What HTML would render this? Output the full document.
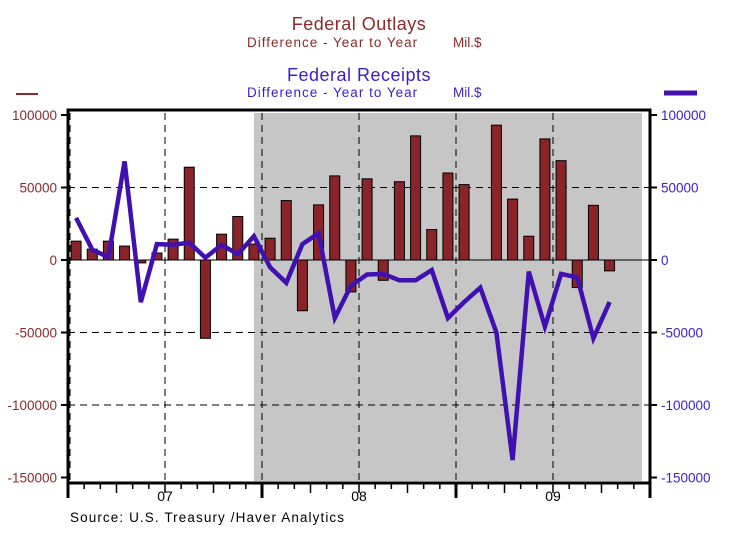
<!DOCTYPE html>
<html><head><meta charset="utf-8"><style>
html,body{margin:0;padding:0;background:#fff;}
svg{display:block;font-family:"Liberation Sans",Arial,sans-serif;}
</style></head><body>
<svg id="chart" width="738" height="537" viewBox="0 0 738 537">
<text x="359" y="30" text-anchor="middle" font-size="18" letter-spacing="0.5" fill="#8b2a2a">Federal Outlays</text>
<text x="247" y="47" font-size="13.5" letter-spacing="1" fill="#8b2a2a">Difference - Year to Year</text>
<text x="453" y="47" font-size="13.5" fill="#8b2a2a">Mil.$</text>
<text x="359" y="81" text-anchor="middle" font-size="18" letter-spacing="0.5" fill="#3a1fc8">Federal Receipts</text>
<text x="247" y="97" font-size="13.5" letter-spacing="1" fill="#3a1fc8">Difference - Year to Year</text>
<text x="453" y="97" font-size="13.5" fill="#3a1fc8">Mil.$</text>
<line x1="16" y1="94" x2="38" y2="94" stroke="#8b2a2a" stroke-width="2"/>
<line x1="664" y1="93" x2="697" y2="93" stroke="#4010b0" stroke-width="5"/>
<g id="plot"></g>
<text x="70" y="522" font-size="13.5" letter-spacing="1.1" fill="#000">Source:  U.S. Treasury /Haver Analytics</text>
</svg>
<script>
const months = ["2007-01","2007-02","2007-03","2007-04","2007-05","2007-06","2007-07","2007-08","2007-09","2007-10","2007-11","2007-12","2008-01","2008-02","2008-03","2008-04","2008-05","2008-06","2008-07","2008-08","2008-09","2008-10","2008-11","2008-12","2009-01","2009-02","2009-03","2009-04","2009-05","2009-06","2009-07","2009-08","2009-09","2009-10"];
const outlays = [13000,7500,13000,9600,-2000,4800,14400,64000,-54000,17800,30000,11000,15000,41000,-35000,38000,58000,-22000,56000,-14000,54000,85600,21000,60000,52000,null,93000,42000,16400,83500,68500,-19000,37700,-7500];
const receipts = [29000,7000,2000,68000,-29000,11000,10500,12000,1600,10500,4000,16400,-5000,-15700,11000,18500,-40000,-17800,-10000,-9600,-14000,-14000,-7000,-40000,-29000,-19000,-50000,-138000,-8000,-46000,-9600,-12000,-54000,-29000];
const yTicks = [100000,50000,0,-50000,-100000,-150000];
const yearLabels = ["07","08","09"];
const shadeStart = 11.5, shadeEnd = 35.5;

const NS="http://www.w3.org/2000/svg";
const g=document.getElementById('plot');
const X0=68, X1=650, MW=(X1-X0)/36;
const Y_TOP=110, Y_BOT=483;
function xm(i){return X0+(i+0.5)*MW;}
function xe(i){return X0+i*MW;}
function y(v){return 260-(v/50000)*72.5;}
function mk(t,a){const e=document.createElementNS(NS,t);for(const k in a)e.setAttribute(k,a[k]);g.appendChild(e);return e;}

let e=mk('rect',{x:xe(shadeStart),y:113,width:xe(shadeEnd)-xe(shadeStart),height:Y_BOT-115,fill:'#c6c6c6'});



yTicks.forEach(v=>{
  if(v===100000||v===-150000||v===0) return;
  const l=mk('line',{x1:X0,x2:X1,y1:y(v),y2:y(v),stroke:'#000','stroke-width':1,'stroke-dasharray':'7,5'});
  
  
});
for(let k=0;k<6;k++){
  const gx = xe(6+k*6);
  if(gx>=X1-1) continue;
  const l=mk('line',{x1:gx,x2:gx,y1:Y_TOP+3,y2:Y_BOT,stroke:'#000','stroke-width':1,'stroke-dasharray':'7,5'});
  
  
}
e=mk('line',{x1:X0+2,x2:X0+2,y1:Y_TOP+3,y2:Y_BOT,stroke:'#000','stroke-width':1,'stroke-dasharray':'7,5'});



e=mk('line',{x1:X0,x2:X1,y1:y(0),y2:y(0),stroke:'#000','stroke-width':1});



outlays.forEach((v,i)=>{
  if(v===null) return;
  const bw=10, top=Math.min(y(v),y(0)), h=Math.abs(y(v)-y(0));
  const r=mk('rect',{x:xm(i)-bw/2,y:top,width:bw,height:h,fill:'#88242a',stroke:'#000','stroke-width':1});
  
  
});
const pts=receipts.map((v,i)=>xm(i).toFixed(1)+','+y(v).toFixed(1)).join(' ');
e=mk('polyline',{points:pts,fill:'none',stroke:'#4010b0','stroke-width':4.5,'stroke-linejoin':'miter'});



e=mk('rect',{x:X0,y:Y_TOP,width:X1-X0,height:Y_BOT-Y_TOP,fill:'none',stroke:'#000','stroke-width':3});



yTicks.forEach(v=>{
  let t=mk('line',{x1:X0-7,x2:X0,y1:y(v),y2:y(v),stroke:'#000','stroke-width':2});
  
  
  t=mk('line',{x1:X1,x2:X1+7,y1:y(v),y2:y(v),stroke:'#000','stroke-width':2});
  
  
  let l=mk('text',{x:X0-11,y:y(v)+5,'text-anchor':'end','font-size':13.5,fill:'#8b2a2a'});
  l.textContent=v;
  
  
  l=mk('text',{x:X1+11,y:y(v)+5,'font-size':13.5,fill:'#3a1fc8'});
  l.textContent=v;
  
  
});
for(let i=0;i<=36;i++){
  const major=i%12===0;
  const t=mk('line',{x1:xe(i),x2:xe(i),y1:Y_BOT,y2:Y_BOT+(major?15:(i%3===0?10:6)),stroke:'#000','stroke-width':major?3:1.5});
  
  
}
yearLabels.forEach((s,k)=>{
  const l=mk('text',{x:xe(6+12*k),y:501,'text-anchor':'middle','font-size':14,fill:'#000'});
  l.textContent=s;
  
  
});
</script>
</body></html>
